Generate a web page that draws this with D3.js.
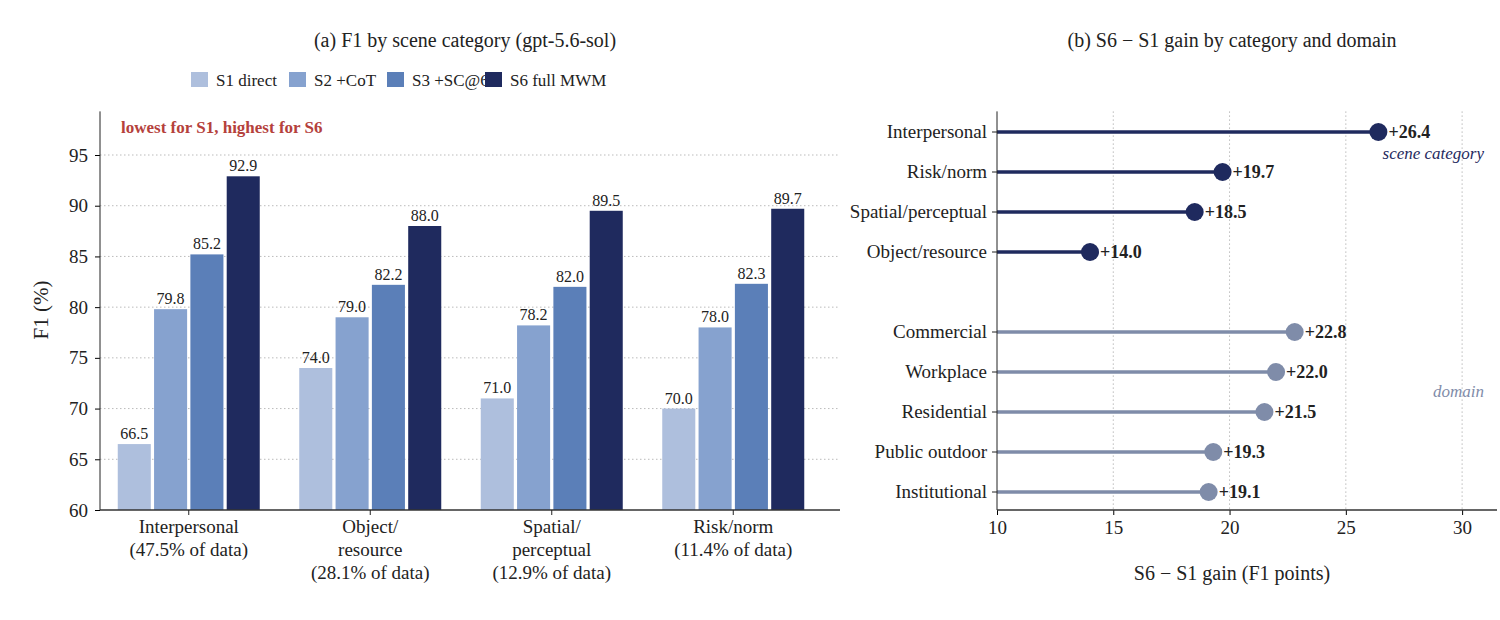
<!DOCTYPE html>
<html><head><meta charset="utf-8">
<script src="https://cdn.jsdelivr.net/npm/d3@7"></script>
<style>body{margin:0;background:#fff}svg text{font-family:"Liberation Serif","DejaVu Serif",serif}</style>
</head><body><div id="chart"></div>
<script>
var categories = ["Interpersonal", "Object/resource", "Spatial/perceptual", "Risk/norm"];
var catLabels = [["Interpersonal", "(47.5% of data)"], ["Object/", "resource", "(28.1% of data)"], ["Spatial/", "perceptual", "(12.9% of data)"], ["Risk/norm", "(11.4% of data)"]];
var series = ["S1 direct", "S2 +CoT", "S3 +SC@6", "S6 full MWM"];
var colors = ["#aebfdd", "#86a2cf", "#5b7fb8", "#1f2a5e"];
var values = [
  [66.5, 79.8, 85.2, 92.9],
  [74.0, 79.0, 82.2, 88.0],
  [71.0, 78.2, 82.0, 89.5],
  [70.0, 78.0, 82.3, 89.7]
];
var gainLabels = ["Interpersonal", "Risk/norm", "Spatial/perceptual", "Object/resource", "", "Commercial", "Workplace", "Residential", "Public outdoor", "Institutional"];
var gains = [26.4, 19.7, 18.5, 14.0, null, 22.8, 22.0, 21.5, 19.3, 19.1];
var gainGroup = ["cat", "cat", "cat", "cat", null, "dom", "dom", "dom", "dom", "dom"];

var svg = d3.select("#chart").append("svg").attr("width", 1500).attr("height", 620);
var serif = "Liberation Serif";

// ---- panel (a)
var y = d3.scaleLinear().domain([60, 95]).range([510, 155]);
var x0 = d3.scaleBand().domain(categories).range([98, 824]);
var x1 = d3.scaleBand().domain(series).range([-71, 71]).paddingInner(0.09);
var spineTop = y(99.3);

svg.append("g").selectAll("line").data([65, 70, 75, 80, 85, 90, 95]).enter().append("line")
  .attr("x1", 100).attr("x2", 840).attr("y1", y).attr("y2", y)
  .attr("stroke", "#bbb").attr("stroke-dasharray", "1.5,2.5").attr("stroke-width", 1);

var groups = svg.append("g").selectAll("g").data(values).enter().append("g")
  .attr("transform", function(d, i) { return "translate(" + (x0(categories[i]) + x0.bandwidth() / 2) + ",0)"; });
groups.selectAll("rect").data(function(d) { return d; }).enter().append("rect")
  .attr("x", function(d, j) { return x1(series[j]); })
  .attr("width", x1.bandwidth())
  .attr("y", function(d) { return y(d); })
  .attr("height", function(d) { return 510 - y(d); })
  .attr("fill", function(d, j) { return colors[j]; });
groups.selectAll("text").data(function(d) { return d; }).enter().append("text")
  .attr("x", function(d, j) { return x1(series[j]) + x1.bandwidth() / 2; })
  .attr("y", function(d) { return y(d) - 5; })
  .attr("text-anchor", "middle").attr("font-size", 16).attr("fill", "#222")
  .text(function(d) { return d.toFixed(1); });

var ya = svg.append("g").attr("transform", "translate(100,0)")
  .call(d3.axisLeft(y).tickValues([60, 65, 70, 75, 80, 85, 90, 95]).tickSize(5).tickPadding(7));
ya.select(".domain").remove();
ya.attr("font-family", serif);
ya.selectAll("text").attr("font-size", 19).attr("fill", "#222");
svg.append("line").attr("x1", 100).attr("x2", 100).attr("y1", spineTop).attr("y2", 510).attr("stroke", "#222");
svg.append("line").attr("x1", 100).attr("x2", 840).attr("y1", 510).attr("y2", 510).attr("stroke", "#333").attr("stroke-width", 1.5);

catLabels.forEach(function(lines, i) {
  var cx = x0(categories[i]) + x0.bandwidth() / 2;
  svg.append("line").attr("x1", cx).attr("x2", cx).attr("y1", 510).attr("y2", 515).attr("stroke", "#222");
  var t = svg.append("text").attr("x", cx).attr("y", 533).attr("text-anchor", "middle").attr("font-size", 19).attr("fill", "#222");
  lines.forEach(function(l, k) { t.append("tspan").attr("x", cx).attr("dy", k ? 23 : 0).text(l); });
});

svg.append("text").attr("transform", "translate(48,310) rotate(-90)").attr("text-anchor", "middle")
  .attr("font-size", 21).attr("fill", "#222").text("F1 (%)");
svg.append("text").attr("x", 465).attr("y", 47).attr("text-anchor", "middle").attr("font-size", 20).attr("fill", "#222")
  .text("(a) F1 by scene category (gpt-5.6-sol)");
svg.append("text").attr("x", 121).attr("y", 133).attr("font-size", 17).attr("font-weight", "bold").attr("fill", "#b5413c")
  .text("lowest for S1, highest for S6");

var legX = [191, 289, 387, 485];
series.forEach(function(s, j) {
  svg.append("rect").attr("x", legX[j]).attr("y", 72).attr("width", 17).attr("height", 15).attr("fill", colors[j]);
  svg.append("text").attr("x", legX[j] + 25).attr("y", 86).attr("font-size", 17).attr("fill", "#222").text(s);
});

// ---- panel (b)
var gx = d3.scaleLinear().domain([10, 31.5]).range([997, 1497]);
var gy = d3.scalePoint().domain(d3.range(gainLabels.length)).range([132, 492]);
var dark = "#1f2a5e", light = "#7f8ca9";

svg.append("g").selectAll("line").data([15, 20, 25, 30]).enter().append("line")
  .attr("x1", gx).attr("x2", gx).attr("y1", spineTop).attr("y2", 510)
  .attr("stroke", "#bbb").attr("stroke-dasharray", "1.5,2.5");

var rows = svg.append("g").selectAll("g").data(gains.map(function(g, i) { return i; }).filter(function(i) { return gains[i] !== null; }))
  .enter().append("g");
rows.append("line").attr("x1", gx(10)).attr("x2", function(i) { return gx(gains[i]); })
  .attr("y1", function(i) { return gy(i); }).attr("y2", function(i) { return gy(i); })
  .attr("stroke", function(i) { return gainGroup[i] === "cat" ? dark : light; }).attr("stroke-width", 3.5);
rows.append("circle").attr("cx", function(i) { return gx(gains[i]); }).attr("cy", function(i) { return gy(i); }).attr("r", 9)
  .attr("fill", function(i) { return gainGroup[i] === "cat" ? dark : light; });
rows.append("text").attr("x", function(i) { return gx(gains[i]) + 10; }).attr("y", function(i) { return gy(i) + 6; })
  .attr("font-size", 18).attr("font-weight", "bold").attr("fill", "#222")
  .text(function(i) { return "+" + gains[i].toFixed(1); });
rows.append("text").attr("x", 987).attr("y", function(i) { return gy(i) + 6; }).attr("text-anchor", "end")
  .attr("font-size", 19).attr("fill", "#222").text(function(i) { return gainLabels[i]; });
rows.append("line").attr("x1", 992).attr("x2", 997).attr("y1", function(i) { return gy(i); }).attr("y2", function(i) { return gy(i); }).attr("stroke", "#222");

var xa = svg.append("g").attr("transform", "translate(0,510)")
  .call(d3.axisBottom(gx).tickValues([10, 15, 20, 25, 30]).tickSize(5).tickPadding(6));
xa.select(".domain").remove();
xa.attr("font-family", serif);
xa.selectAll("text").attr("font-size", 19).attr("fill", "#222");
svg.append("line").attr("x1", 997).attr("x2", 997).attr("y1", spineTop).attr("y2", 510).attr("stroke", "#222");
svg.append("line").attr("x1", 997).attr("x2", 1497).attr("y1", 510).attr("y2", 510).attr("stroke", "#333").attr("stroke-width", 1.5);

svg.append("text").attr("x", 1484).attr("y", 159).attr("text-anchor", "end").attr("font-size", 17).attr("font-style", "italic").attr("fill", dark).text("scene category");
svg.append("text").attr("x", 1484).attr("y", 397).attr("text-anchor", "end").attr("font-size", 17).attr("font-style", "italic").attr("fill", light).text("domain");
svg.append("text").attr("x", 1232).attr("y", 580).attr("text-anchor", "middle").attr("font-size", 20).attr("fill", "#222").text("S6 − S1 gain (F1 points)");
svg.append("text").attr("x", 1232).attr("y", 47).attr("text-anchor", "middle").attr("font-size", 20).attr("fill", "#222").text("(b) S6 − S1 gain by category and domain");
</script></body></html>
